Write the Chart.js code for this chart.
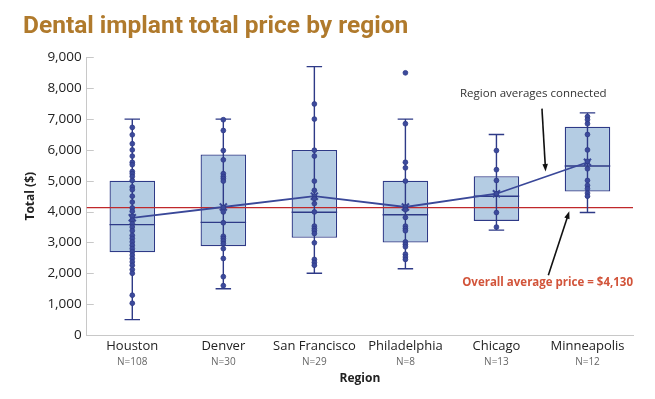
<!DOCTYPE html>
<html>
<head>
<meta charset="utf-8">
<script src="https://cdn.jsdelivr.net/npm/chart.js@4.4.0/dist/chart.umd.min.js"></script>
<style>
  html, body { margin: 0; padding: 0; background: #fff; }
  #wrap { width: 655px; height: 399px; }
</style>
</head>
<body>
<div id="wrap"><canvas id="priceChart"></canvas></div>
<script>
// Categories and box statistics
const regions = ['Houston', 'Denver', 'San Francisco', 'Philadelphia', 'Chicago', 'Minneapolis'];
const sampleSizes = ['N=108', 'N=30', 'N=29', 'N=8', 'N=13', 'N=12'];
const whiskerLow = [500, 1500, 2000, 2150, 3400, 3970];
const quartile1 = [2680, 2880, 3150, 3000, 3700, 4650];
const medians = [3580, 3650, 3980, 3900, 4500, 5480];
const quartile3 = [5000, 5850, 6000, 5000, 5150, 6750];
const whiskerHigh = [7000, 7000, 8700, 7000, 6500, 7200];
const regionAverages = [3800, 4150, 4500, 4150, 4580, 5600];
const overallAverage = 4130;
const yTicks = [0, 1000, 2000, 3000, 4000, 5000, 6000, 7000, 8000, 9000];

// Individual prices (dots)
const houstonPrices = [6730, 6490, 6200, 6000, 5800, 5600, 5520, 5300, 5230, 5140, 5010, 4800, 4710, 4500, 4310,
  4120, 4010, 3850, 3720, 3610, 3500, 3380, 3230, 3130, 3020, 2910, 2800, 2700, 2590, 2480, 2370, 2260, 2120, 2000,
  1290, 1030];
const denverPrices = [6980, 6630, 5980, 5680, 5230, 5140, 5070, 4990, 4130, 3990, 3640, 3200, 3130, 3050, 2960,
  2800, 2480, 1890, 1600];
const sanFranciscoPrices = [7490, 7000, 5990, 5800, 4990, 4690, 4500, 4420, 4260, 3990, 3530, 3450, 3380, 3290,
  2990, 2450, 2350, 2260];
const philadelphiaPrices = [8500, 6850, 5600, 5420, 4990, 4150, 4060, 3810, 3530, 3450, 3380, 3020, 2940, 2860,
  2620, 2530, 2450];
const chicagoPrices = [5980, 5360, 5010, 4580, 3970, 3500];
const minneapolisPrices = [7080, 6980, 6850, 6500, 6000, 5630, 5390, 5010, 4850, 4740, 4600, 4500];
const pricesByRegion = [houstonPrices, denverPrices, sanFranciscoPrices, philadelphiaPrices, chicagoPrices, minneapolisPrices];

const navy = '#2e3a87';
const dotPoints = [];
pricesByRegion.forEach((list, i) => {
  list.forEach(v => dotPoints.push({ x: regions[i], y: v }));
});

function arrow(ctx, x1, y1, x2, y2) {
  const ang = Math.atan2(y2 - y1, x2 - x1);
  const head = 8;
  ctx.beginPath();
  ctx.moveTo(x1, y1);
  ctx.lineTo(x2 - Math.cos(ang) * head * 0.8, y2 - Math.sin(ang) * head * 0.8);
  ctx.stroke();
  ctx.beginPath();
  ctx.moveTo(x2, y2);
  ctx.lineTo(x2 - head * Math.cos(ang - 0.35), y2 - head * Math.sin(ang - 0.35));
  ctx.lineTo(x2 - head * Math.cos(ang + 0.35), y2 - head * Math.sin(ang + 0.35));
  ctx.closePath();
  ctx.fill();
}

// whiskers, medians, overall average line, and notes
const boxPlotExtras = {
  id: 'boxPlotExtras',
  afterDatasetDraw(chart, args) {
    if (args.index !== 0) return;
    const { ctx, chartArea, scales: { x, y } } = chart;
    const bars = chart.getDatasetMeta(0).data;
    ctx.save();

    // small inner tick marks on the y axis
    ctx.strokeStyle = '#c8c8c8';
    ctx.lineWidth = 1;
    yTicks.forEach(t => {
      const ty = Math.round(y.getPixelForValue(t)) + 0.5;
      ctx.beginPath();
      ctx.moveTo(chartArea.left, ty);
      ctx.lineTo(chartArea.left + 7, ty);
      ctx.stroke();
    });

    const ya = y.getPixelForValue(overallAverage);
    ctx.strokeStyle = '#c0282b';
    ctx.lineWidth = 1.2;
    ctx.beginPath();
    ctx.moveTo(chartArea.left, ya);
    ctx.lineTo(chartArea.right, ya);
    ctx.stroke();

    ctx.strokeStyle = navy;
    ctx.lineWidth = 1.4;
    regions.forEach((r, i) => {
      const cx = x.getPixelForValue(i);
      const half = bars[i].width / 2;
      const cap = half * 0.34;
      const yl = y.getPixelForValue(whiskerLow[i]);
      const yh = y.getPixelForValue(whiskerHigh[i]);
      const ym = y.getPixelForValue(medians[i]);
      ctx.beginPath();
      ctx.moveTo(cx, yl); ctx.lineTo(cx, yh);
      ctx.moveTo(cx - cap, yl); ctx.lineTo(cx + cap, yl);
      ctx.moveTo(cx - cap, yh); ctx.lineTo(cx + cap, yh);
      ctx.moveTo(cx - half, ym); ctx.lineTo(cx + half, ym);
      ctx.stroke();
    });
    ctx.restore();
  },
  afterDraw(chart) {
    const { ctx, chartArea, scales: { x, y } } = chart;
    const step = x.getPixelForValue(1) - x.getPixelForValue(0);
    const px = v => x.getPixelForValue(0) + v * step;
    ctx.save();
    ctx.font = '11.5px "Open Sans"';
    ctx.fillStyle = '#333';
    ctx.textBaseline = 'middle';
    ctx.textAlign = 'left';
    ctx.fillText('Region averages connected', px(3.6), y.getPixelForValue(7830));

    ctx.font = 'bold 11.5px "Open Sans"';
    ctx.fillStyle = '#d2543a';
    ctx.textAlign = 'right';
    ctx.fillText('Overall average price = $4,130', chartArea.right, y.getPixelForValue(1710));

    ctx.strokeStyle = '#111';
    ctx.fillStyle = '#111';
    ctx.lineWidth = 1.6;
    arrow(ctx, px(4.5), y.getPixelForValue(7340), px(4.54), y.getPixelForValue(5300));
    arrow(ctx, px(4.57), y.getPixelForValue(1940), px(4.8), y.getPixelForValue(4010));
    ctx.restore();
  }
};

const ctx = document.getElementById('priceChart');
new Chart(ctx, {
  data: {
    labels: regions,
    datasets: [
      {
        type: 'bar',
        data: regions.map((r, i) => [quartile1[i], quartile3[i]]),
        backgroundColor: '#b4cce3',
        borderColor: navy,
        borderWidth: 1.3,
        borderSkipped: false,
        barPercentage: 0.5,
        categoryPercentage: 1,
        order: 3
      },
      {
        type: 'line',
        data: regionAverages,
        borderColor: '#3a4899',
        borderWidth: 1.8,
        pointStyle: 'crossRot',
        pointRadius: 5,
        pointBorderWidth: 2,
        pointBorderColor: '#3a4899',
        tension: 0,
        order: 2
      },
      {
        type: 'scatter',
        data: dotPoints,
        backgroundColor: '#3c4a9c',
        borderColor: '#2e3a87',
        borderWidth: 0.8,
        pointRadius: 2.4,
        order: 1
      }
    ]
  },
  options: {
    responsive: true,
    maintainAspectRatio: false,
    animation: false,
    layout: { padding: { left: 23, right: 22, top: 0, bottom: 13 } },
    plugins: {
      legend: { display: false },
      tooltip: { enabled: false },
      title: {
        display: true,
        text: 'Dental implant total price by region',
        align: 'start',
        color: '#b07a2c',
        font: { family: 'Roboto', size: 24.5, weight: 'bold' },
        padding: { top: 12, bottom: 16 }
      }
    },
    scales: {
      x: {
        type: 'category',
        offset: true,
        grid: { display: false, drawTicks: false },
        border: { display: true, color: '#c8c8c8' },
        ticks: { color: '#222', font: { family: 'Open Sans', size: 13 }, padding: 3, maxRotation: 0, autoSkip: false }
      },
      xN: {
        type: 'category',
        position: 'bottom',
        labels: sampleSizes,
        offset: true,
        grid: { display: false, drawTicks: false },
        border: { display: false },
        ticks: { color: '#666', font: { family: 'Open Sans', size: 10, lineHeight: 1.1 }, padding: 0, maxRotation: 0, autoSkip: false },
        title: { display: true, text: 'Region', color: '#222', font: { family: 'Open Sans', size: 12, weight: 'bold' }, padding: { top: 4, bottom: 0 } }
      },
      y: {
        min: 0,
        max: 9000,
        afterBuildTicks: axis => { axis.ticks = yTicks.map(v => ({ value: v })); },
        grid: { display: false, drawTicks: false },
        border: { display: true, color: '#c8c8c8' },
        ticks: { color: '#222', font: { family: 'Open Sans', size: 13.5 }, padding: 5, callback: v => v.toLocaleString('en-US') },
        title: { display: true, text: 'Total ($)', color: '#222', font: { family: 'Open Sans', size: 12, weight: 'bold' }, padding: { top: 0, bottom: 5 } }
      }
    }
  },
  plugins: [boxPlotExtras]
});
</script>
</body>
</html>
